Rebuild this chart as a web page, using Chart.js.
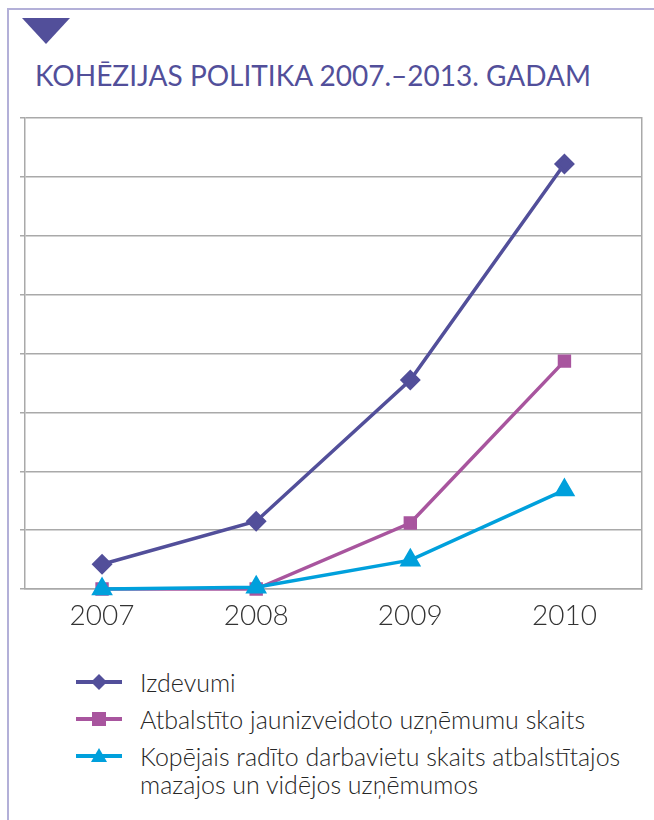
<!DOCTYPE html>
<html>
<head>
<meta charset="utf-8">
<script src="https://cdn.jsdelivr.net/npm/chart.js@4.4.1/dist/chart.umd.min.js"></script>
<style>
  html, body { margin: 0; padding: 0; background: #fff; }
  body { width: 654px; height: 820px; position: relative; overflow: hidden; font-family: Lato, "Open Sans", sans-serif; }
  .frame-top { position: absolute; left: 7px; top: 8px; width: 647px; height: 2px; background: #b3b0d8; }
  .frame-left { position: absolute; left: 7px; top: 8px; width: 2px; height: 812px; background: #b3b0d8; }
  .tri { position: absolute; left: 22px; top: 18px; width: 0; height: 0;
         border-left: 24px solid transparent; border-right: 24px solid transparent; border-top: 26px solid #524f9a; }
  .title { position: absolute; left: 35px; top: 58px; font-size: 28px; color: #524f9a; white-space: nowrap; font-family: Lato, sans-serif; font-weight: 400; }
  #chartWrap { position: absolute; left: 0; top: 100px; width: 654px; height: 540px; }
  .legend { position: absolute; left: 76px; top: 668px; color: #262626; font-size: 25px; font-weight: 300; }
  .li { display: flex; align-items: flex-start; margin-bottom: 9px; }
  .li svg { flex: 0 0 auto; margin-top: 4px; }
  .li span { margin-left: 18px; line-height: 28px; }
</style>
</head>
<body>
<div class="frame-top"></div>
<div class="frame-left"></div>
<div class="tri"></div>
<div class="title">KOHĒZIJAS POLITIKA 2007.–2013. GADAM</div>
<div id="chartWrap"><canvas id="c" width="654" height="540"></canvas></div>
<div class="legend" id="legend"></div>
<script>
const categories = ["2007", "2008", "2009", "2010"];
const izdevumi = [0.42, 1.15, 3.55, 7.22];
const jaunizveidoto = [0, 0, 1.12, 3.87];
const darbavietas = [0, 0.03, 0.49, 1.68];
const seriesNames = [
  "Izdevumi",
  "Atbalstīto jaunizveidoto uzņēmumu skaits",
  "Kopējais radīto darbavietu skaits atbalstītajos mazajos un vidējos uzņēmumos"
];
const colors = ["#524f9a", "#a8559e", "#00a0dc"];
const styles = ["rectRot", "rect", "triangle"];
const radii = [8, 7, 9];

const gridColor = "#a9a9a9";
const ctx = document.getElementById("c");
new Chart(ctx, {
  type: "line",
  data: {
    labels: categories,
    datasets: [
      { label: seriesNames[0], data: izdevumi, borderColor: colors[0], backgroundColor: colors[0], pointStyle: styles[0], pointRadius: radii[0], borderWidth: 3.5, order: 2, clip: false },
      { label: seriesNames[1], data: jaunizveidoto, borderColor: colors[1], backgroundColor: colors[1], pointStyle: styles[1], pointRadius: radii[1], borderWidth: 3.5, order: 1, clip: false },
      { label: seriesNames[2], data: darbavietas, borderColor: colors[2], backgroundColor: colors[2], pointStyle: styles[2], pointRadius: radii[2], borderWidth: 3.5, order: 0, clip: false }
    ]
  },
  options: {
    responsive: false,
    animation: false,
    devicePixelRatio: 1,
    layout: { padding: { top: 18, left: 0, right: 0, bottom: 0 } },
    plugins: { legend: { display: false }, tooltip: { enabled: false } },
    elements: { line: { tension: 0 }, point: { borderWidth: 0, hoverRadius: 8 } },
    scales: {
      x: {
        offset: true,
        grid: { display: false },
        border: { display: true, color: gridColor, width: 1.5 },
        ticks: { color: "#333", font: { family: "Lato", size: 28, weight: 300 }, padding: 2, maxRotation: 0 },
        afterFit: (s) => { s.height = 51; }
      },
      y: {
        min: 0, max: 8,
        ticks: { display: false, stepSize: 1 },
        grid: { color: gridColor, lineWidth: 1.5, tickLength: 5, drawTicks: true },
        border: { display: true, color: gridColor, width: 1.5 },
        afterFit: (s) => { s.width = 25; }
      },
      y2: {
        position: "right",
        min: 0, max: 8,
        ticks: { display: false },
        grid: { display: false },
        border: { display: true, color: gridColor, width: 1.5 },
        afterFit: (s) => { s.width = 6; }
      }
    }
  }
});

// HTML legend
const legend = document.getElementById("legend");
const markerSvg = (i) => {
  const c = colors[i];
  let m = "";
  if (styles[i] === "rectRot") m = `<polygon points="23,2 31,10 23,18 15,10" fill="${c}"/>`;
  else if (styles[i] === "rect") m = `<rect x="16" y="3" width="14" height="14" fill="${c}"/>`;
  else m = `<polygon points="23,2 31,16 15,16" fill="${c}"/>`;
  return `<svg width="46" height="20" viewBox="0 0 46 20"><line x1="0" y1="10" x2="46" y2="10" stroke="${c}" stroke-width="4"/>${m}</svg>`;
};
const legendText = [seriesNames[0], seriesNames[1], "Kopējais radīto darbavietu skaits atbalstītajos<br>mazajos un vidējos uzņēmumos"];
legendText.forEach((t, i) => {
  const d = document.createElement("div");
  d.className = "li";
  d.innerHTML = markerSvg(i) + `<span>${t}</span>`;
  legend.appendChild(d);
});
</script>
</body>
</html>
